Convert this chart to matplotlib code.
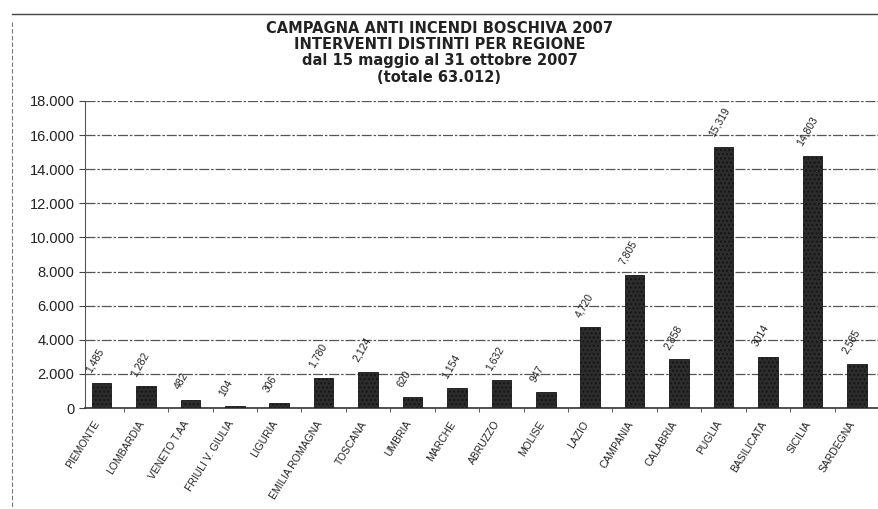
from matplotlib import pyplot as plt
from matplotlib.lines import Line2D
from matplotlib.ticker import FuncFormatter, MultipleLocator
import numpy as np

regioni = ['PIEMONTE', 'LOMBARDIA', 'VENETO T.AA', 'FRIULI V. GIULIA', 'LIGURIA',
           'EMILIA ROMAGNA', 'TOSCANA', 'UMBRIA', 'MARCHE', 'ABRUZZO', 'MOLISE',
           'LAZIO', 'CAMPANIA', 'CALABRIA', 'PUGLIA', 'BASILICATA', 'SICILIA',
           'SARDEGNA']
interventi = [1485, 1282, 482, 104, 306, 1780, 2124, 620, 1154, 1632, 947,
              4720, 7805, 2858, 15319, 3014, 14803, 2585]
etichette = ['1,485', '1,282', '482', '104', '306', '1,780', '2,124', '620',
             '1,154', '1,632', '947', '4,720', '7,805', '2,858', '15,319',
             '3014', '14,803', '2,585']
titolo = ('CAMPAGNA ANTI INCENDI BOSCHIVA 2007\n'
          'INTERVENTI DISTINTI PER REGIONE\n'
          'dal 15 maggio al 31 ottobre 2007\n'
          '(totale 63.012)')

plt.rcParams['font.family'] = ['Liberation Sans', 'DejaVu Sans']

fig = plt.figure(figsize=(8.79, 5.09), dpi=100)
ax = fig.add_axes([85 / 879, 1 - 408 / 509, 1 - 85 / 879, (408 - 101) / 509])

x = np.arange(len(regioni))
ax.bar(x, interventi, width=0.44, color='#2c2c2c', edgecolor='#151515',
       linewidth=0.6, hatch='....', zorder=3)

for xi, v, lab in zip(x, interventi, etichette):
    ax.annotate(lab, (xi, v), xytext=(-6, 6), textcoords='offset points',
                rotation=60, rotation_mode='anchor', ha='left', va='bottom',
                fontsize=7.5, color='#222222')

ax.set_xlim(-0.37, 17.5)
ax.set_ylim(0, 18000)
ax.yaxis.set_major_locator(MultipleLocator(2000))
ax.yaxis.set_major_formatter(FuncFormatter(lambda v, p: f'{int(v):,}'.replace(',', '.')))
ax.grid(axis='y', color='#555555', linewidth=0.9, linestyle=(0, (8, 1.5, 2, 1.5)), zorder=0)

# category labels sit a little left of the bar centres, like the original
ax.set_xticks(x - 0.18)
ax.set_xticklabels(regioni, rotation=58, ha='right', rotation_mode='anchor',
                   fontsize=7.5, color='#222222')
ax.set_xticks(x[:-1] + 0.5, minor=True)
ax.tick_params(axis='x', which='major', length=0, pad=8)
ax.tick_params(axis='x', which='minor', length=3, color='#444444')
ax.tick_params(axis='y', length=4, color='#444444', labelsize=10.5, labelcolor='#222222')

for s in ['top', 'right']:
    ax.spines[s].set_visible(False)
ax.spines['left'].set_color('#555555')
ax.spines['bottom'].set_color('#333333')
ax.spines['bottom'].set_linewidth(1.2)

fig.text(0.5, 1 - 21 / 509, titolo, ha='center', va='top', fontsize=10.5,
         fontweight='bold', linespacing=1.1, color='#222222',
         family=['DejaVu Sans'])

fig.add_artist(Line2D([12 / 879, 1], [1 - 14 / 509, 1 - 14 / 509],
                      color='#444444', linewidth=1, transform=fig.transFigure))
fig.add_artist(Line2D([12 / 879, 12 / 879], [1 - 22 / 509, 1 - 507 / 509],
                      color='#777777', linewidth=0.8, linestyle=(0, (4, 2)),
                      transform=fig.transFigure))

plt.savefig('out.png', dpi=100)
